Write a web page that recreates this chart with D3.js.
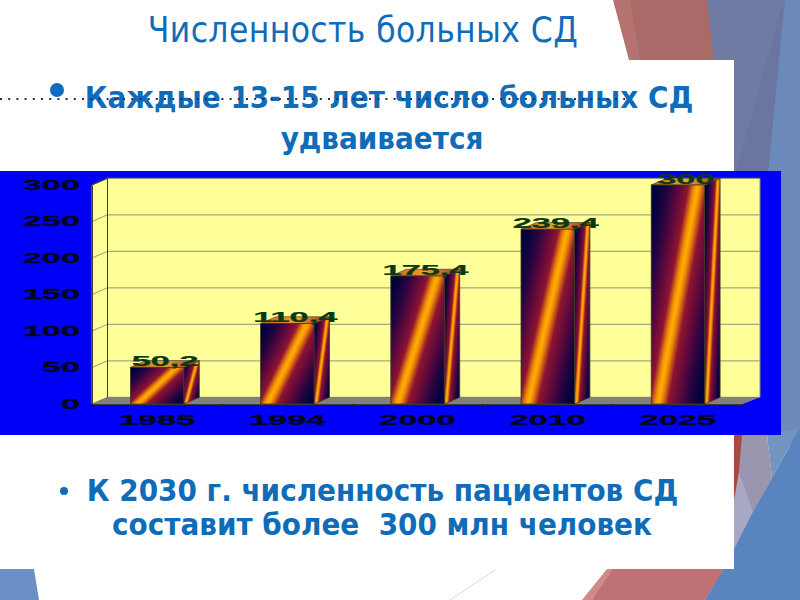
<!DOCTYPE html>
<html>
<head>
<meta charset="utf-8">
<script src="https://cdn.jsdelivr.net/npm/d3@7"></script>
<style>
  html, body { margin: 0; padding: 0; background: #fff; }
  svg { display: block; }
  .slide-text { font-family: "DejaVu Sans Condensed", "DejaVu Sans", sans-serif; font-stretch: condensed; fill: #0f6cb8; text-anchor: middle; }
  .axis text { font-family: "Liberation Sans", Arial, sans-serif; font-weight: bold; font-size: 14px; fill: #050520; stroke: #050520; stroke-width: 0.3px; }
  .val { font-family: "Liberation Sans", Arial, sans-serif; font-weight: bold; font-size: 14px; fill: #0b3a12; stroke: #0b3a12; stroke-width: 0.25px; text-anchor: middle; }
</style>
</head>
<body>
<div id="chart"></div>
<script>
const years = ["1985", "1994", "2000", "2010", "2025"];
const patients = [50.2, 110.4, 175.4, 239.4, 300];
const valueLabels = ["50,2", "110,4", "175,4", "239,4", "300"];
const yTicks = [0, 50, 100, 150, 200, 250, 300];

const svg = d3.select("#chart").append("svg").attr("width", 800).attr("height", 600);
const defs = svg.append("defs");

// slide background shapes
const shapes = [
  ["#b5736f", "613,0 632,0 642,60 629,60"],
  ["#a96a68", "630,0 708,0 716,60 640,60"],
  ["#6f7ba3", "707,0 786,0 770,175 720,175 714,60"],
  ["#6b76a0", "784,0 768,175 735,175"],
  ["#6b89ba", "785,0 800,0 800,445 768,445 768,175"],
  ["#9a96b0", "734,435 767,435 772,478 734,549"],
  ["#a9483f", "734,435 742,435 737,495 734,510"],
  ["#a9a8c4", "739,472 753,512 734,548 734,500"],
  ["#7494bf", "767,435 800,428 772,478"],
  ["#5a84bd", "800,428 800,600 705,600 734,549 753,512 772,478"],
  ["#be7274", "609,569 724,569 705,600 592,600"],
  ["#d18a85", "607,569 613,569 592,600 582,600"],
  ["#6a8fc4", "0,569 34,569 39,600 0,600"]
];
svg.selectAll("polygon.bg").data(shapes).join("polygon")
  .attr("class", "bg")
  .attr("fill", d => d[0])
  .attr("points", d => d[1]);

// white content panel
svg.append("rect").attr("x", 0).attr("y", 60).attr("width", 734).attr("height", 509).attr("fill", "#fff");
svg.append("line").attr("x1", 495).attr("y1", 570).attr("x2", 450).attr("y2", 600).attr("stroke", "#d8d8d8");

// title and text
svg.append("text").attr("class", "slide-text").attr("x", 363).attr("y", 42)
  .style("font-size", "35px").style("letter-spacing", "0.4px").text("Численность больных СД");
svg.append("circle").attr("cx", 57).attr("cy", 90).attr("r", 7).attr("fill", "#0f6cc0");
svg.append("text").attr("class", "slide-text").attr("x", 389).attr("y", 108)
  .style("font-size", "31px").style("font-weight", "bold").text("Каждые 13-15 лет число больных СД");
svg.append("text").attr("class", "slide-text").attr("x", 382).attr("y", 149)
  .style("font-size", "31px").style("font-weight", "bold").text("удваивается");
svg.append("line").attr("x1", 0).attr("y1", 99).attr("x2", 625).attr("y2", 99)
  .attr("stroke", "#1f2f5f").attr("stroke-width", 2).attr("stroke-dasharray", "2 6.2");

svg.append("circle").attr("cx", 64).attr("cy", 491).attr("r", 4).attr("fill", "#0f6cb8");
svg.append("text").attr("class", "slide-text").attr("x", 382.5).attr("y", 501)
  .style("font-size", "31px").style("font-weight", "bold").text("К 2030 г. численность пациентов СД");
svg.append("text").attr("class", "slide-text").attr("x", 382).attr("y", 535)
  .attr("xml:space", "preserve").style("white-space", "pre")
  .style("font-size", "31px").style("font-weight", "bold").text("составит более  300 млн человек");

// chart
svg.append("rect").attr("x", 0).attr("y", 171).attr("width", 781).attr("height", 264).attr("fill", "#0000f8");

const depthX = 15.5, depthY = 6.7;
const x = d3.scaleBand().domain(years).range([92, 743]).paddingInner(0.59).paddingOuter(0.295);
const y = d3.scaleLinear().domain([0, 300]).range([404, 185]);
const axisColor = "#3c3c2c";

const wallFill = "#ffff99";
svg.append("polygon").attr("fill", wallFill).attr("stroke", "#8a8a70")
  .attr("points", [[92, y(0)], [92 + depthX, y(0) - depthY], [92 + depthX, y(300) - depthY], [92, y(300)]].join(" "));
svg.append("polygon").attr("fill", wallFill).attr("stroke", "#8a8a70")
  .attr("points", [[92 + depthX, y(0) - depthY], [743 + depthX + 1.5, y(0) - depthY], [743 + depthX + 1.5, y(300) - depthY], [92 + depthX, y(300) - depthY]].join(" "));
svg.append("polygon").attr("fill", "#808080")
  .attr("points", [[92, y(0)], [92 + depthX, y(0) - depthY], [743 + depthX + 1.5, y(0) - depthY], [743, y(0)]].join(" "));

// grid lines run along the side wall and the back wall
svg.selectAll("polyline.grid").data(yTicks.slice(1)).join("polyline")
  .attr("class", "grid")
  .attr("fill", "none")
  .attr("stroke", d => d === 300 ? "none" : "#a8a880")
  .attr("stroke-width", 1.2)
  .attr("points", d => [[92, y(d)], [92 + depthX, y(d) - depthY], [743 + depthX + 1.5, y(d) - depthY]].join(" "));
svg.append("line").attr("x1", 92).attr("y1", y(300)).attr("x2", 92 + depthX).attr("y2", y(300) - depthY)
  .attr("stroke", axisColor);
svg.append("line").attr("x1", 92 + depthX).attr("y1", y(0) - depthY).attr("x2", 92 + depthX).attr("y2", y(300) - depthY)
  .attr("stroke", axisColor);

// fire gradient
const grad = defs.append("linearGradient").attr("id", "fire")
  .attr("x1", 0).attr("y1", 0.13).attr("x2", 1).attr("y2", 0.87);
[[0, "#00003c"], [0.14, "#200440"], [0.28, "#5e083c"], [0.39, "#8e1430"], [0.46, "#f08a08"], [0.5, "#ffb000"], [0.54, "#f08a08"],
 [0.62, "#8e1430"], [0.74, "#5e083c"], [0.88, "#200440"], [1, "#00003c"]].forEach(s => {
  grad.append("stop").attr("offset", s[0]).attr("stop-color", s[1]);
});
const topGrad = defs.append("linearGradient").attr("id", "fireTop")
  .attr("x1", 0).attr("y1", 0).attr("x2", 1).attr("y2", 0);
[[0, "#c06020"], [0.5, "#f0a030"], [1, "#a03030"]].forEach(s => {
  topGrad.append("stop").attr("offset", s[0]).attr("stop-color", s[1]);
});

const bars = svg.selectAll("g.bar").data(years).join("g").attr("class", "bar");
const v = i => patients[i];
const barStroke = "#3a3a22";
bars.append("polygon").attr("fill", "url(#fire)").attr("stroke", barStroke).attr("stroke-width", 0.8)
  .attr("points", (d, i) => {
    const r = x(d) + x.bandwidth();
    return [[r, y(0)], [r + depthX, y(0) - depthY], [r + depthX, y(v(i)) - depthY], [r, y(v(i))]].join(" ");
  });
bars.append("polygon").attr("fill", "url(#fireTop)").attr("stroke", barStroke).attr("stroke-width", 0.6)
  .attr("points", (d, i) => {
    const l = x(d), r = l + x.bandwidth();
    return [[l, y(v(i))], [l + depthX, y(v(i)) - depthY], [r + depthX, y(v(i)) - depthY], [r, y(v(i))]].join(" ");
  });
bars.append("rect").attr("fill", "url(#fire)").attr("stroke", barStroke).attr("stroke-width", 0.8)
  .attr("x", d => x(d))
  .attr("y", (d, i) => y(v(i)))
  .attr("width", x.bandwidth())
  .attr("height", (d, i) => y(0) - y(v(i)));

// axes, text is stretched sideways like in the original picture
const stretch = 2.45;
const yAxis = svg.append("g").attr("class", "axis").attr("transform", "translate(92,0)")
  .call(d3.axisLeft(y).tickValues(yTicks).tickSize(0).tickPadding(12));
yAxis.select(".domain").attr("stroke", axisColor);
yAxis.selectAll("text").attr("transform", `scale(${stretch},1)`).attr("x", -12 / stretch);

const xAxis = svg.append("g").attr("class", "axis").attr("transform", "translate(0,404)")
  .call(d3.axisBottom(x).tickSize(0).tickPadding(11));
xAxis.select(".domain").attr("stroke", axisColor);
xAxis.selectAll("text").attr("transform", `scale(${stretch},1)`);

// small ticks between the categories on the x axis
svg.selectAll("line.cat").data(d3.range(years.length + 1)).join("line")
  .attr("class", "cat")
  .attr("x1", i => 92 + i * x.step()).attr("x2", i => 92 + i * x.step())
  .attr("y1", 404).attr("y2", 407)
  .attr("stroke", "#10104a");

// value labels
svg.selectAll("text.val").data(valueLabels).join("text")
  .attr("class", "val")
  .attr("transform", (d, i) => `translate(${x(years[i]) + x.bandwidth() / 2 + 8},${y(patients[i]) - 1}) scale(${stretch},1)`)
  .text(d => d);
</script>
</body>
</html>
